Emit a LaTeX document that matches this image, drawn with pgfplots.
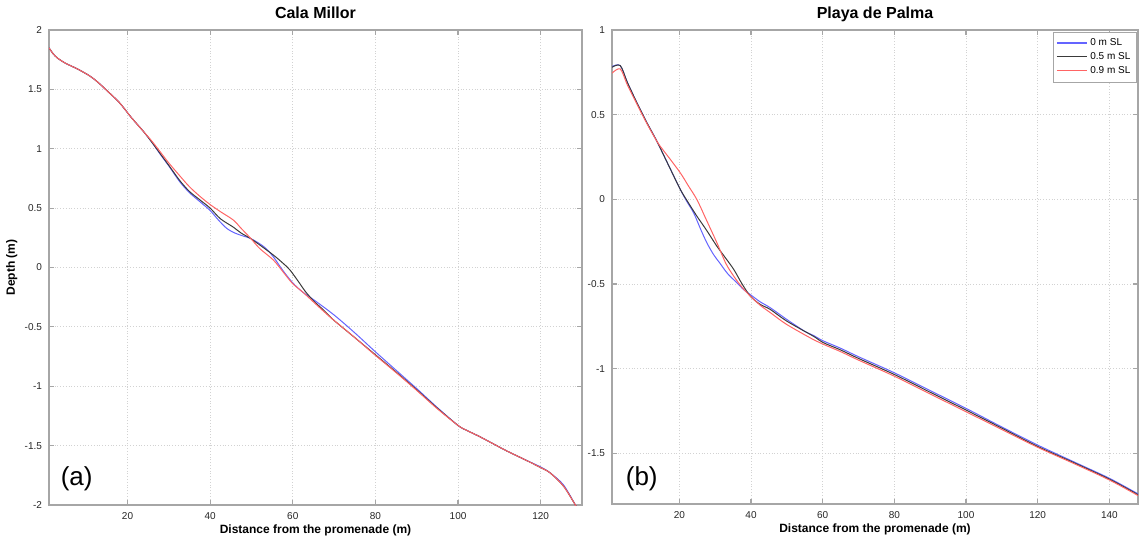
\documentclass[border=0pt]{standalone}
\usepackage{pgfplots}
\pgfplotsset{compat=1.18}
\usepackage{fontspec}
\setmainfont{Liberation Sans}
\definecolor{slBlue}{HTML}{6464FF}
\definecolor{slBlack}{HTML}{3A3A3A}
\definecolor{slRed}{HTML}{FF6464}

\pgfplotsset{profile/.style={
  scale only axis,
  axis line style={gray!70, line width=0.8pt},
  tick style={gray!70, line width=0.6pt},
  major tick length=2.5pt,
  tick align=inside,
  grid=major,
  grid style={densely dotted, gray!35, line width=0.4pt},
  tick label style={font=\fontsize{5}{6}\selectfont, text=black!85},
  title style={font=\bfseries\fontsize{8}{9.6}\selectfont, anchor=base},
  xlabel style={font=\bfseries\fontsize{6}{7}\selectfont, at={(0.5,0)}, anchor=base, yshift=-14pt},
  ylabel style={font=\bfseries\fontsize{6}{7}\selectfont},
  every axis plot/.append style={line width=0.5pt},
  xlabel={Distance from the promenade (m)},
}}

\begin{document}
\begin{tikzpicture}
\path[use as bounding box] (0,0) rectangle (570pt,269pt);

% (a) Cala Millor
\begin{axis}[
  profile,
  at={(24.5pt,16.5pt)}, anchor=south west,
  width=266.5pt, height=237.5pt,
  xmin=1, xmax=130, ymin=-2, ymax=2,
  xtick={20,40,60,80,100,120},
  xticklabels={20,40,60,80,100,120},
  ytick={-2,-1.5,-1,-0.5,0,0.5,1,1.5,2},
  yticklabels={-2,-1.5,-1,-0.5,0,0.5,1,1.5,2},
  title={Cala Millor},
  ylabel={Depth (m)},
  ylabel style={at={(axis description cs:-0.064,0.5)}, anchor=base},
]
\addplot[slBlue, smooth] coordinates {
(1,1.85) (2,1.80) (3,1.765) (5,1.72) (8,1.67) (11,1.61) (13,1.555) (15,1.49) (18,1.39) (21,1.26) (24,1.14)
(26,1.05) (28,0.95) (30,0.855) (32.7,0.72) (35,0.63) (37.5,0.555) (40,0.48) (42,0.40) (44,0.33) (46,0.29)
(48,0.265) (49.7,0.246) (52,0.2) (53.5,0.16) (55.3,0.09) (57.5,-0.02) (60,-0.13) (62.5,-0.21) (65,-0.27)
(70,-0.40) (75,-0.55) (80,-0.71) (85,-0.865) (90,-1.02) (95,-1.18) (100,-1.33) (102,-1.37) (105,-1.42)
(108,-1.475) (111.8,-1.545) (116,-1.615) (120,-1.68) (122.3,-1.73) (125.5,-1.83) (128.4,-2.0) (129,-2.04)};
\addplot[slBlack, smooth] coordinates {
(1,1.85) (2,1.80) (3,1.765) (5,1.72) (8,1.67) (11,1.61) (13,1.555) (15,1.49) (18,1.39) (21,1.26) (24,1.14)
(26,1.05) (28,0.955) (30,0.86) (32.7,0.73) (35,0.64) (37.5,0.57) (40,0.5) (42.5,0.41) (45.6,0.34) (47.5,0.29)
(49.7,0.246) (52,0.19) (55.3,0.105) (57.5,0.04) (59.3,-0.02) (61.6,-0.13) (63,-0.2) (65,-0.28) (67.5,-0.36)
(69.8,-0.44) (75,-0.59) (80,-0.735) (85,-0.88) (90,-1.03) (95,-1.185) (100,-1.33) (102,-1.37) (105,-1.42)
(108,-1.475) (111.8,-1.545) (116,-1.615) (120,-1.685) (122.3,-1.73) (125.5,-1.84) (128.4,-2.0) (129,-2.04)};
\addplot[slRed, smooth] coordinates {
(1,1.85) (2,1.80) (3,1.765) (5,1.72) (8,1.67) (11,1.61) (13,1.555) (15,1.49) (18,1.39) (21,1.26) (24,1.14)
(26,1.06) (28,0.97) (30,0.88) (32.7,0.77) (35,0.68) (37.5,0.6) (40,0.53) (42.5,0.47) (45.6,0.40) (47.5,0.33)
(49.7,0.25) (52,0.16) (55.3,0.063) (57.5,-0.03) (59.9,-0.133) (62.5,-0.21) (65,-0.29) (67.5,-0.37)
(69.8,-0.44) (75,-0.59) (80,-0.74) (85,-0.885) (90,-1.035) (95,-1.19) (100,-1.33) (102,-1.37) (105,-1.42)
(108,-1.475) (111.8,-1.545) (116,-1.615) (120,-1.685) (122.3,-1.73) (125.5,-1.84) (128.4,-2.0) (129,-2.04)};
\node[font=\fontsize{13}{15}\selectfont] at (axis cs:7.7,-1.78) {(a)};
\end{axis}

% (b) Playa de Palma
\begin{axis}[
  profile,
  at={(306pt,17pt)}, anchor=south west,
  width=263pt, height=237pt,
  xmin=1.2, xmax=148, ymin=-1.8, ymax=1,
  xtick={20,40,60,80,100,120,140},
  xticklabels={20,40,60,80,100,120,140},
  ytick={-1.5,-1,-0.5,0,0.5,1},
  yticklabels={-1.5,-1,-0.5,0,0.5,1},
  title={Playa de Palma},
  legend style={font=\fontsize{5}{6}\selectfont, draw=gray!70, line width=0.4pt,
    at={(1,1)}, anchor=north east, xshift=-0.6pt, yshift=-1pt,
    inner xsep=1.5pt, inner ysep=1pt, row sep=-2pt,
    nodes={inner xsep=1.5pt}},
  legend cell align=left,
  legend image code/.code={\draw[#1, line width=0.6pt] (0pt,0.25pt) -- (15pt,0.25pt);},
]
\addplot[slBlue, smooth] coordinates {
(1.2,0.784) (3.5,0.79) (5.5,0.69) (8.2,0.568) (11,0.45) (13.8,0.34) (17,0.2) (20.3,0.057) (22,-0.01)
(24,-0.081) (26,-0.18) (27.7,-0.258) (29.5,-0.325) (31.4,-0.38) (33.5,-0.44) (36.1,-0.494) (38,-0.535)
(39.8,-0.563) (42.5,-0.605) (45.4,-0.641) (50,-0.71) (55,-0.78) (57.5,-0.805) (60,-0.835) (65,-0.88)
(70,-0.93) (80,-1.025) (90,-1.13) (100,-1.235) (110,-1.345) (120,-1.452) (130,-1.55) (140,-1.648) (148,-1.74)};
\addplot[slBlack, smooth] coordinates {
(1.2,0.78) (3.5,0.79) (5.5,0.69) (8.2,0.568) (11,0.45) (13.8,0.34) (17,0.2) (20.3,0.057) (22.5,-0.02)
(24.9,-0.10) (27.5,-0.18) (30.5,-0.278) (33,-0.35) (35.2,-0.415) (37.5,-0.5) (39.8,-0.572) (42.5,-0.62)
(45.4,-0.651) (50,-0.72) (57.5,-0.81) (60,-0.845) (65,-0.89) (70,-0.94) (80,-1.035) (90,-1.14) (100,-1.245)
(110,-1.352) (120,-1.46) (130,-1.555) (140,-1.653) (148,-1.745)};
\addplot[slRed, smooth] coordinates {
(1.2,0.745) (3.5,0.77) (5.5,0.675) (8.2,0.56) (11,0.445) (13.8,0.34) (15.5,0.29) (17.5,0.235) (20.3,0.155)
(22.5,0.08) (24.9,-0.002) (27.5,-0.12) (30.5,-0.258) (33,-0.38) (35.2,-0.455) (37.5,-0.52) (39.8,-0.572)
(42.5,-0.625) (45.4,-0.67) (50,-0.74) (57.5,-0.83) (60,-0.855) (65,-0.9) (70,-0.95) (80,-1.045) (90,-1.15)
(100,-1.255) (110,-1.36) (120,-1.465) (130,-1.56) (140,-1.658) (148,-1.75)};
\legend{0 m SL, 0.5 m SL, 0.9 m SL}
\node[font=\fontsize{13}{15}\selectfont] at (axis cs:9.5,-1.653) {(b)};
\end{axis}
\end{tikzpicture}
\end{document}
